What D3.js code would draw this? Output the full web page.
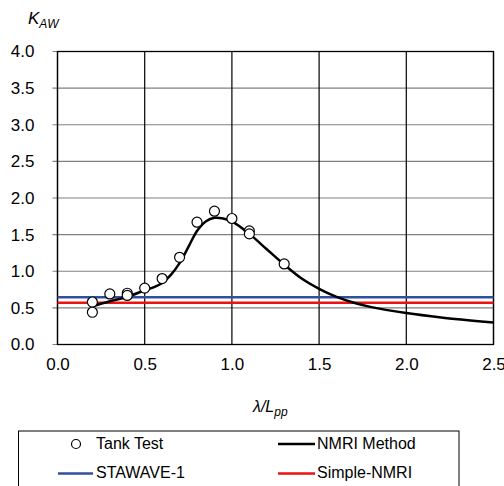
<!DOCTYPE html>
<html>
<head>
<meta charset="utf-8">
<script src="https://cdn.jsdelivr.net/npm/d3@7"></script>
<style>
  html, body { margin: 0; padding: 0; background: #fff; }
  svg { display: block; font-family: "Liberation Sans", Arial, sans-serif; }
</style>
</head>
<body>
<svg id="chart" width="504" height="486"></svg>
<script>
// ---- data ----
const xTicks = [0.0, 0.5, 1.0, 1.5, 2.0, 2.5];
const yTicks = [0.0, 0.5, 1.0, 1.5, 2.0, 2.5, 3.0, 3.5, 4.0];

const tankX = [0.2, 0.2, 0.3, 0.4, 0.4, 0.5, 0.6, 0.7, 0.8, 0.9, 1.0, 1.1, 1.1, 1.3];
const tankY = [0.58, 0.44, 0.69, 0.70, 0.67, 0.77, 0.90, 1.19, 1.67, 1.82, 1.72, 1.55, 1.51, 1.10];

const nmriX = [0.2, 0.3, 0.4, 0.5, 0.55, 0.6, 0.65, 0.7, 0.75, 0.8, 0.85, 0.9, 0.95, 1.0, 1.1, 1.2, 1.3, 1.4, 1.5, 1.6, 1.7, 1.8, 2.0, 2.2, 2.5];
const nmriY = [0.52, 0.59, 0.65, 0.74, 0.78, 0.84, 0.95, 1.11, 1.33, 1.55, 1.68, 1.73, 1.72, 1.68, 1.51, 1.30, 1.09, 0.90, 0.76, 0.65, 0.57, 0.51, 0.43, 0.37, 0.30];

const stawaveX = [0.0, 2.5];
const stawaveY = [0.645, 0.645];
const simpleX = [0.0, 2.5];
const simpleY = [0.57, 0.57];

const legendItems = [
  { label: "Tank Test", type: "circle" },
  { label: "NMRI Method", type: "line", color: "#000000" },
  { label: "STAWAVE-1", type: "line", color: "#2f4f9f" },
  { label: "Simple-NMRI", type: "line", color: "#ee1111" }
];

// ---- layout ----
const svg = d3.select("#chart");
const x = d3.scaleLinear().domain([0, 2.5]).range([57.5, 493.5]);
const y = d3.scaleLinear().domain([0, 4]).range([344.5, 51.5]);

// horizontal gridlines (gray)
svg.append("g").selectAll("line").data(yTicks).join("line")
  .attr("x1", x(0) - 5).attr("x2", x(2.5))
  .attr("y1", d => y(d)).attr("y2", d => y(d))
  .attr("stroke", "#808080").attr("stroke-width", 1.2);

// vertical gridlines (black)
svg.append("g").selectAll("line").data(xTicks).join("line")
  .attr("x1", d => x(d)).attr("x2", d => x(d))
  .attr("y1", y(0)).attr("y2", y(4))
  .attr("stroke", "#000").attr("stroke-width", 1.2);

// plot border
svg.append("rect")
  .attr("x", x(0)).attr("y", y(4))
  .attr("width", x(2.5) - x(0)).attr("height", y(0) - y(4))
  .attr("fill", "none").attr("stroke", "#000").attr("stroke-width", 1.3);

// axes labels via d3 axes
const yAxis = d3.axisLeft(y).tickValues(yTicks).tickFormat(d3.format(".1f")).tickSize(0).tickPadding(23);
const gy = svg.append("g").attr("transform", `translate(${x(0)},0)`).call(yAxis);
gy.select(".domain").remove();
gy.selectAll("text").attr("font-size", 17).attr("fill", "#000").attr("font-family", "Liberation Sans, Arial, sans-serif");

const xAxis = d3.axisBottom(x).tickValues(xTicks).tickFormat(d3.format(".1f")).tickSize(0).tickPadding(13);
const gx = svg.append("g").attr("transform", `translate(0,${y(0)})`).call(xAxis);
gx.select(".domain").remove();
gx.selectAll("text").attr("font-size", 17).attr("fill", "#000").attr("font-family", "Liberation Sans, Arial, sans-serif");

// horizontal reference lines
const lineGen = d3.line().x(d => x(d[0])).y(d => y(d[1]));
svg.append("path").datum(d3.zip(stawaveX, stawaveY)).attr("d", lineGen)
  .attr("fill", "none").attr("stroke", "#2f4f9f").attr("stroke-width", 2.5);
svg.append("path").datum(d3.zip(simpleX, simpleY)).attr("d", lineGen)
  .attr("fill", "none").attr("stroke", "#ee1111").attr("stroke-width", 2.5);

// NMRI curve
const curveGen = d3.line().x(d => x(d[0])).y(d => y(d[1])).curve(d3.curveCatmullRom.alpha(0.5));
svg.append("path").datum(d3.zip(nmriX, nmriY)).attr("d", curveGen)
  .attr("fill", "none").attr("stroke", "#000").attr("stroke-width", 2.5);

// Tank test points
svg.append("g").selectAll("circle").data(d3.zip(tankX, tankY)).join("circle")
  .attr("cx", d => x(d[0])).attr("cy", d => y(d[1])).attr("r", 5)
  .attr("fill", "#fff").attr("stroke", "#000").attr("stroke-width", 1.2);

// axis titles
const yt = svg.append("text").attr("x", 28).attr("y", 24).attr("font-size", 17).attr("font-style", "italic");
yt.append("tspan").text("K");
yt.append("tspan").attr("font-size", 12).attr("dy", 4).text("AW");

const xt = svg.append("text").attr("x", 253).attr("y", 412).attr("font-size", 16).attr("font-style", "italic");
xt.append("tspan").text("λ/L");
xt.append("tspan").attr("font-size", 12).attr("dy", 4).text("pp");

// legend
svg.append("rect").attr("x", 18.5).attr("y", 431).attr("width", 440.5).attr("height", 80)
  .attr("fill", "none").attr("stroke", "#000").attr("stroke-width", 1);

const legPos = [
  { sx: 58, ex: 93, tx: 96, ty: 443 },
  { sx: 278, ex: 315, tx: 317, ty: 443 },
  { sx: 58, ex: 93, tx: 96, ty: 472.5 },
  { sx: 278, ex: 315, tx: 317, ty: 472.5 }
];
const lg = svg.append("g");
legendItems.forEach((it, i) => {
  const p = legPos[i];
  if (it.type === "circle") {
    lg.append("circle").attr("cx", (p.sx + p.ex) / 2 + 0.5).attr("cy", p.ty + 1).attr("r", 4.5)
      .attr("fill", "#fff").attr("stroke", "#000").attr("stroke-width", 1.2);
  } else {
    lg.append("line").attr("x1", p.sx).attr("x2", p.ex).attr("y1", p.ty + 1).attr("y2", p.ty + 1)
      .attr("stroke", it.color).attr("stroke-width", 2.5);
  }
  lg.append("text").attr("x", p.tx).attr("y", p.ty).attr("dy", "0.35em")
    .attr("font-size", 16).attr("fill", "#000").text(it.label);
});
</script>
</body>
</html>
